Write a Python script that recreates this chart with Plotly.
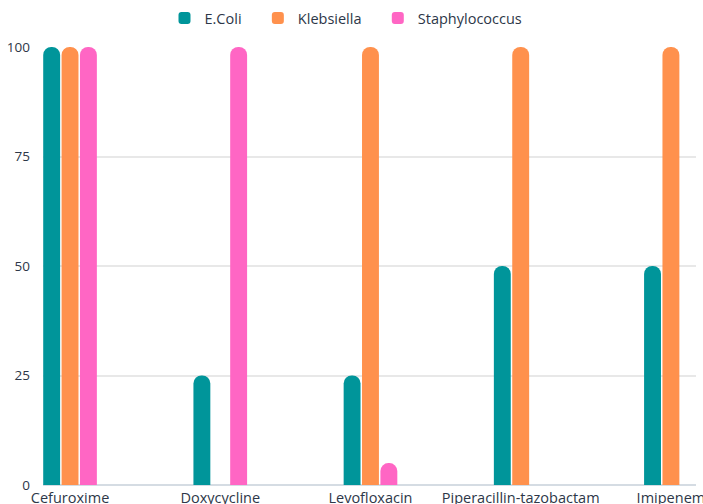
import plotly.graph_objects as go

categories = ["Cefuroxime", "Doxycycline", "Levofloxacin", "Piperacillin-tazobactam", "Imipenem"]
ecoli = [100, 25, 25, 50, 50]
klebsiella = [100, 0, 100, 100, 100]
staphylococcus = [100, 100, 5, 0, 0]
y_ticks = [0, 25, 50, 75, 100]

series = [
    ("E.Coli", ecoli, "#00959A"),
    ("Klebsiella", klebsiella, "#FF914D"),
    ("Staphylococcus", staphylococcus, "#FF66C4"),
]

nbsp = "\u00a0"
fig = go.Figure()
for name, vals, color in series:
    fig.add_trace(go.Bar(
        x=categories, y=vals, name=name + nbsp * 3,
        marker=dict(color=color, line=dict(width=0)),
    ))

font_family = "Open Sans, Lato, sans-serif"
text_color = "#2D3748"

fig.update_layout(
    width=703, height=504,
    margin=dict(l=43, r=7, t=47, b=19, autoexpand=False),
    paper_bgcolor="white", plot_bgcolor="white",
    barmode="group", bargap=0.633, bargroupgap=0.08,
    barcornerradius=8,
    font=dict(family=font_family, color=text_color, size=13),
    legend=dict(
        orientation="h", x=0.5, xanchor="center", xref="container",
        y=0.964, yanchor="middle", yref="container",
        font=dict(size=14.5, color=text_color),
        itemwidth=30, traceorder="normal",
    ),
    showlegend=True,
)

fig.update_xaxes(
    type="category", range=[-0.18, 4.167], automargin=False,
    showgrid=False, showline=False, zeroline=False,
    ticks="", ticklabelstandoff=2, tickfont=dict(size=14.5, color=text_color),
)
fig.update_yaxes(
    range=[0, 100], tickvals=y_ticks, automargin=False,
    showgrid=True, gridcolor="#E8E8E8", gridwidth=1.5,
    zeroline=True, zerolinecolor="#D5DCE3", zerolinewidth=1.5,
    showline=False, ticks="", ticklabelstandoff=12,
    tickfont=dict(size=13.5, color=text_color),
)

fig.write_html("out.html")
